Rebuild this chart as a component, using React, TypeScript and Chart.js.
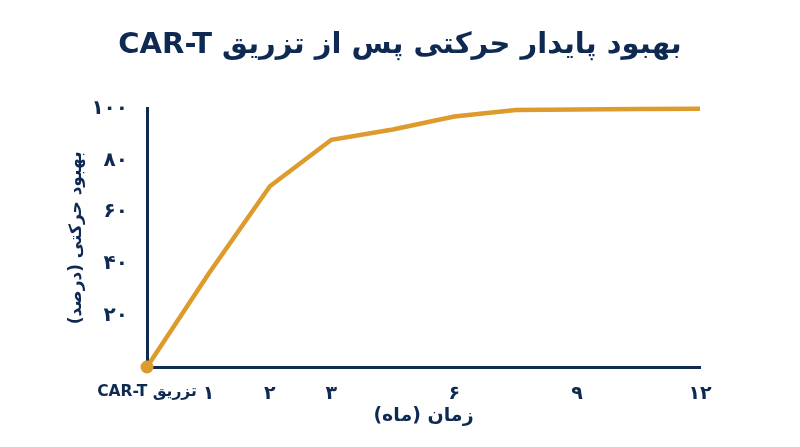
import { useEffect, useRef } from 'react'
import { Chart, registerables } from 'chart.js'

Chart.register(...registerables)

// ── Data ──────────────────────────────────────────────────────────────
const chartTitle = 'بهبود پایدار حرکتی پس از تزریق CAR-T'
const xTitle = 'زمان (ماه)'
const yTitle = 'بهبود حرکتی (درصد)'
const categories = ['تزریق CAR-T', '۱', '۲', '۳', '', '۶', '', '۹', '', '۱۲']
const improvement = [0, 36, 70, 88, 92, 97, 99.5, 99.7, 99.9, 100]
const yTicks = [20, 40, 60, 80, 100]

const NAVY = '#0e2a52'
const GOLD = '#dc9b2c'
const FONT = '"DejaVu Sans", sans-serif'

const toFa = (n: number) => String(n).replace(/\d/g, d => '۰۱۲۳۴۵۶۷۸۹'[+d])

export default function App() {
  const canvasRef = useRef<HTMLCanvasElement>(null)

  useEffect(() => {
    if (!canvasRef.current) return
    const chart = new Chart(canvasRef.current, {
      type: 'line',
      data: {
        labels: categories,
        datasets: [{
          data: improvement,
          borderColor: GOLD,
          borderWidth: 4.5,
          backgroundColor: GOLD,
          pointRadius: improvement.map((_, i) => (i === 0 ? 6.5 : 0)),
          pointBorderWidth: 0,
          tension: 0,
          clip: false,
        } as any],
      },
      options: {
        responsive: true,
        maintainAspectRatio: false,
        animation: false,
        layout: { padding: 0 },
        plugins: {
          legend: { display: false },
          tooltip: { enabled: false },
          title: {
            display: true,
            text: chartTitle,
            color: NAVY,
            font: { family: FONT, size: 29, weight: 'bold' },
            padding: { top: 28, bottom: 46 },
          },
        },
        scales: {
          x: {
            grid: { display: false },
            border: { color: NAVY, width: 3 },
            ticks: {
              color: NAVY,
              // the first (injection) label is set smaller than the month digits
              font: (c: any) => ({ family: FONT, size: c.index === 0 ? 15.5 : 19, weight: 'bold' }),
              padding: 8,
              autoSkip: false,
              maxRotation: 0,
            },
            title: {
              display: true,
              text: xTitle,
              color: NAVY,
              font: { family: FONT, size: 19, weight: 'bold' },
              padding: { top: 0, bottom: 20 },
            },
            afterFit: (s: any) => { s.height = 80 },
          },
          y: {
            min: 0,
            max: 100,
            grid: { display: false },
            border: { color: NAVY, width: 3 },
            ticks: {
              stepSize: 20,
              color: NAVY,
              font: { family: FONT, size: 20, weight: 'bold' },
              padding: 11,
              callback: (v: any) => (yTicks.includes(Number(v)) ? toFa(Number(v)) : ''),
            },
            title: {
              display: true,
              text: yTitle,
              color: NAVY,
              font: { family: FONT, size: 17, weight: 'bold' },
              padding: { top: 66, bottom: 0 },
            },
            afterFit: (s: any) => { s.width = 147 },
          },
          // empty right-hand margin so the title stays centred on the page
          spacer: {
            type: 'linear',
            position: 'right',
            display: true,
            grid: { display: false },
            border: { display: false },
            ticks: { display: false },
            afterFit: (s: any) => { s.width = 100 },
          },
        },
      },
    } as any)
    return () => chart.destroy()
  }, [])

  return (
    <div style={{ position: 'fixed', left: 0, top: 0, width: 800, height: 447, background: '#fff' }}>
      <canvas ref={canvasRef} dir="rtl" />
    </div>
  )
}
